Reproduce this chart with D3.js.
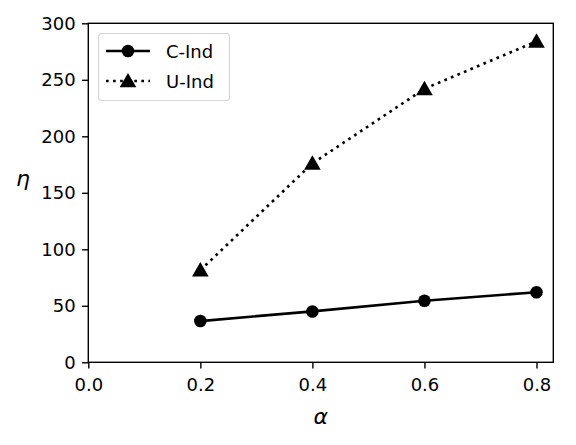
<!DOCTYPE html>
<html>
<head>
<meta charset="utf-8">
<script src="https://cdn.jsdelivr.net/npm/d3@7"></script>
<style>
  body { margin: 0; background: #fff; }
  text { font-family: "DejaVu Sans", sans-serif; fill: #000; }
</style>
</head>
<body>
<div id="chart"></div>
<script>
// values
const alphas = [0.2, 0.4, 0.6, 0.8]
const cInd = [36.5, 45, 54.5, 62]
const uInd = [81.5, 176, 242, 284]
const xTicks = [0.0, 0.2, 0.4, 0.6, 0.8]
const yTicks = [0, 50, 100, 150, 200, 250, 300]
const seriesNames = ['C-Ind', 'U-Ind']

const width = 576
const height = 445
const margin = { top: 23.3, right: 22.7, bottom: 82.7, left: 88.3 }

const svg = d3.select('#chart').append('svg')
  .attr('width', width)
  .attr('height', height)

const x = d3.scaleLinear().domain([0, 0.83]).range([margin.left, width - margin.right])
const y = d3.scaleLinear().domain([0, 300]).range([height - margin.bottom, margin.top])

// axes
const xAxis = svg.append('g')
  .attr('transform', `translate(0,${height - margin.bottom})`)
  .call(d3.axisBottom(x).tickValues(xTicks).tickFormat(d3.format('.1f')).tickSize(6.2).tickPadding(10))
const yAxis = svg.append('g')
  .attr('transform', `translate(${margin.left},0)`)
  .call(d3.axisLeft(y).tickValues(yTicks).tickSize(6.2).tickPadding(6.5))

for (const ax of [xAxis, yAxis]) {
  ax.select('.domain').remove()
  ax.selectAll('line').attr('stroke', '#000').attr('stroke-width', 1.4)
  ax.selectAll('text').style('font-size', '18px').attr('fill', '#000')
}

// frame
svg.append('rect')
  .attr('x', margin.left)
  .attr('y', margin.top)
  .attr('width', width - margin.left - margin.right)
  .attr('height', height - margin.top - margin.bottom)
  .attr('fill', 'none')
  .attr('stroke', '#000')
  .attr('stroke-width', 1.4)

const line = d3.line().x(d => x(d[0])).y(d => y(d[1]))
const tri = d3.symbol().type(d3.symbolTriangle).size(120)

// C-Ind: solid with circles
const cData = alphas.map((a, i) => [a, cInd[i]])
svg.append('path')
  .attr('d', line(cData))
  .attr('fill', 'none')
  .attr('stroke', '#000')
  .attr('stroke-width', 2.67)
svg.selectAll('.cdot').data(cData).enter().append('circle')
  .attr('cx', d => x(d[0]))
  .attr('cy', d => y(d[1]))
  .attr('r', 6.3)
  .attr('fill', '#000')

// U-Ind: dotted with triangles
const uData = alphas.map((a, i) => [a, uInd[i]])
svg.append('path')
  .attr('d', line(uData))
  .attr('fill', 'none')
  .attr('stroke', '#000')
  .attr('stroke-width', 2.67)
  .attr('stroke-dasharray', '2.67,4.4')
svg.selectAll('.utri').data(uData).enter().append('path')
  .attr('d', tri)
  .attr('transform', d => `translate(${x(d[0])},${y(d[1]) + 1.5})`)
  .attr('fill', '#000')

// axis labels
svg.append('text')
  .attr('x', (margin.left + width - margin.right) / 2)
  .attr('y', 424)
  .attr('text-anchor', 'middle')
  .style('font-size', '22px')
  .style('font-style', 'italic')
  .text('α')
svg.append('text')
  .attr('x', 23)
  .attr('y', 186)
  .attr('text-anchor', 'middle')
  .style('font-size', '22px')
  .style('font-style', 'italic')
  .text('η')

// legend
const lg = svg.append('g')
lg.append('rect')
  .attr('x', 98.5)
  .attr('y', 33.5)
  .attr('width', 131)
  .attr('height', 67)
  .attr('rx', 3.5)
  .attr('fill', '#fff')
  .attr('fill-opacity', 0.8)
  .attr('stroke', '#d5d5d5')
  .attr('stroke-width', 1.2)

const rows = [51, 81]
seriesNames.forEach((name, i) => {
  const ly = rows[i]
  lg.append('line')
    .attr('x1', 106).attr('x2', 150)
    .attr('y1', ly).attr('y2', ly)
    .attr('stroke', '#000')
    .attr('stroke-width', 2.67)
    .attr('stroke-dasharray', i === 1 ? '2.67,4.4' : null)
  if (i === 0) {
    lg.append('circle').attr('cx', 128).attr('cy', ly).attr('r', 6.3).attr('fill', '#000')
  } else {
    lg.append('path').attr('d', tri).attr('transform', `translate(128,${ly + 1.5})`).attr('fill', '#000')
  }
  lg.append('text')
    .attr('x', 166)
    .attr('y', ly + 6.5)
    .style('font-size', '18px')
    .text(name)
})
</script>
</body>
</html>
